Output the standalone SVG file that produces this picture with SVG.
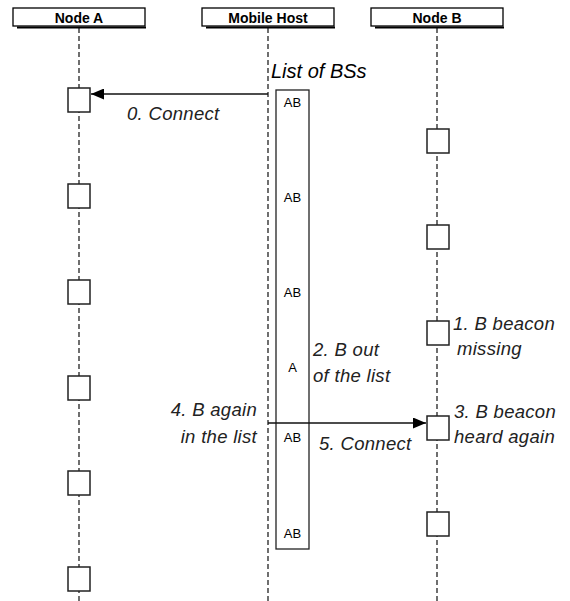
<svg xmlns="http://www.w3.org/2000/svg" width="570" height="601" viewBox="0 0 570 601">
<defs>
<style>
.hdr{fill:#fff;stroke:#000;stroke-width:1.3}
.shd{stroke:#000;stroke-width:2.2;fill:none}
.htx{font-family:"Liberation Sans",Arial,sans-serif;font-size:14px;font-weight:bold;fill:#000;text-anchor:middle}
.life{stroke:#222;stroke-width:1.3;stroke-dasharray:5,3;fill:none}
.act{fill:#fff;stroke:#222;stroke-width:1.5}
.lst{fill:#fff;stroke:#222;stroke-width:1.3}
.ab{font-family:"Liberation Sans",Arial,sans-serif;font-size:13px;fill:#000;text-anchor:middle}
.lbl{font-family:"Liberation Sans",Arial,sans-serif;font-size:18.5px;font-style:italic;fill:#222;letter-spacing:0.3px}
.ttl{font-family:"Liberation Sans",Arial,sans-serif;font-size:20px;font-style:italic;fill:#000}
.msg{stroke:#111;stroke-width:1.3;fill:none;marker-end:url(#arr)}
</style>
<marker id="arr" markerWidth="14" markerHeight="11" refX="13" refY="5.5" orient="auto" markerUnits="userSpaceOnUse">
<path d="M0,0 L13,5.5 L0,11 Z" fill="#000"/>
</marker>
</defs>
<rect width="570" height="601" fill="#fff"/>

<g id="nodeA">
<line class="life" x1="79" y1="28" x2="79" y2="601"/>
<rect class="hdr" x="13" y="8" width="132" height="18"/>
<line class="shd" x1="17" y1="27.5" x2="146" y2="27.5"/>
<text class="htx" x="79" y="22.5">Node A</text>
<rect class="act" x="68" y="88" width="22" height="24"/>
<rect class="act" x="68" y="184" width="22" height="24"/>
<rect class="act" x="68" y="280" width="22" height="24"/>
<rect class="act" x="68" y="376" width="22" height="24"/>
<rect class="act" x="68" y="471" width="22" height="24"/>
<rect class="act" x="68" y="567" width="22" height="24"/>
</g>

<g id="mobileHost">
<line class="life" x1="268" y1="28" x2="268" y2="601"/>
<rect class="hdr" x="202" y="8" width="132" height="18"/>
<line class="shd" x1="206" y1="27.5" x2="335" y2="27.5"/>
<text class="htx" x="268" y="22.5">Mobile Host</text>
</g>

<g id="listOfBSs">
<rect class="lst" x="276" y="90" width="33" height="459"/>
<text class="ab" x="292.5" y="107">AB</text>
<text class="ab" x="292.5" y="202">AB</text>
<text class="ab" x="292.5" y="297">AB</text>
<text class="ab" x="292.5" y="372">A</text>
<text class="ab" x="292.5" y="442">AB</text>
<text class="ab" x="292.5" y="538">AB</text>
<text class="ttl" x="271" y="78">List of BSs</text>
</g>

<g id="nodeB">
<line class="life" x1="437" y1="28" x2="437" y2="601"/>
<rect class="hdr" x="371" y="8" width="132" height="18"/>
<line class="shd" x1="375" y1="27.5" x2="504" y2="27.5"/>
<text class="htx" x="437" y="22.5">Node B</text>
<rect class="act" x="427" y="129" width="22" height="24"/>
<rect class="act" x="427" y="225" width="22" height="24"/>
<rect class="act" x="427" y="321" width="22" height="24"/>
<rect class="act" x="427" y="416" width="22" height="24"/>
<rect class="act" x="427" y="512" width="22" height="24"/>
</g>

<g id="connectors">
<line class="msg" x1="268" y1="94" x2="91" y2="94"/>
<line class="msg" x1="268" y1="423" x2="426" y2="423"/>
</g>

<g id="labels">
<text class="lbl" x="127" y="120">0. Connect</text>
<text class="lbl" x="453" y="330">1. B beacon</text>
<text class="lbl" x="457" y="355">missing</text>
<text class="lbl" x="313" y="356">2. B out</text>
<text class="lbl" x="313" y="382">of the list</text>
<text class="lbl" x="454" y="418">3. B beacon</text>
<text class="lbl" x="454" y="443">heard again</text>
<text class="lbl" x="257" y="416" text-anchor="end">4. B again</text>
<text class="lbl" x="257" y="443" text-anchor="end">in the list</text>
<text class="lbl" x="319" y="450">5. Connect</text>
</g>
</svg>
